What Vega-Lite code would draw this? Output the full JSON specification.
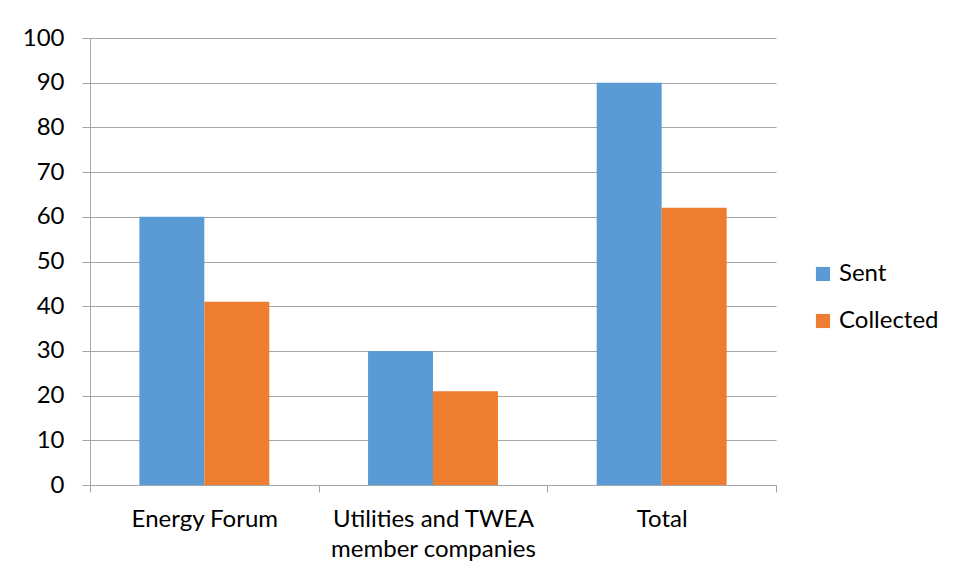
{
  "$schema": "https://vega.github.io/schema/vega-lite/v6.json",
  "width": 686,
  "height": 447,
  "autosize": {"type": "none"},
  "padding": {"left": 90, "top": 38, "right": 180, "bottom": 96},
  "background": "white",
  "data": {
    "values": [
      {"group": "Energy Forum", "series": "Sent", "value": 60},
      {"group": "Energy Forum", "series": "Collected", "value": 41},
      {"group": "Utilities and TWEA member companies", "series": "Sent", "value": 30},
      {"group": "Utilities and TWEA member companies", "series": "Collected", "value": 21},
      {"group": "Total", "series": "Sent", "value": 90},
      {"group": "Total", "series": "Collected", "value": 62}
    ]
  },
  "mark": {"type": "bar"},
  "encoding": {
    "x": {
      "field": "group",
      "type": "nominal",
      "sort": null,
      "scale": {"paddingInner": 0, "paddingOuter": 0},
      "axis": {
        "title": null,
        "labelAngle": 0,
        "labelExpr": "datum.label == 'Utilities and TWEA member companies' ? ['Utilities and TWEA', 'member companies'] : datum.label",
        "labelLineHeight": 30,
        "labelBaseline": "top",
        "labelPadding": 15,
        "labelLimit": 400,
        "tickBand": "extent",
        "tickSize": 7,
        "grid": false
      }
    },
    "xOffset": {
      "field": "series",
      "type": "nominal",
      "sort": ["Sent", "Collected"],
      "scale": {"paddingInner": 0, "paddingOuter": 0.76}
    },
    "y": {
      "field": "value",
      "type": "quantitative",
      "scale": {"domain": [0, 100], "nice": false},
      "axis": {
        "title": null,
        "values": [0, 10, 20, 30, 40, 50, 60, 70, 80, 90, 100],
        "tickSize": 8,
        "labelPadding": 18,
        "grid": true
      }
    },
    "color": {
      "field": "series",
      "type": "nominal",
      "sort": ["Sent", "Collected"],
      "scale": {"domain": ["Sent", "Collected"], "range": ["#5B9BD5", "#ED7D31"]},
      "legend": {
        "title": null,
        "orient": "none",
        "legendX": 721,
        "legendY": 224,
        "symbolType": "square",
        "symbolSize": 200,
        "symbolStrokeWidth": 0,
        "labelFontSize": 24,
        "labelOffset": 4,
        "labelLimit": 300,
        "rowPadding": 23
      }
    }
  },
  "config": {
    "font": "Lato",
    "view": {"stroke": null},
    "axis": {
      "labelFont": "Lato",
      "labelFontSize": 24,
      "labelColor": "#000000",
      "domainColor": "#A6A6A6",
      "tickColor": "#A6A6A6",
      "gridColor": "#A6A6A6",
      "gridOpacity": 1,
      "domainWidth": 1,
      "tickWidth": 1,
      "gridWidth": 1
    },
    "legend": {"labelFont": "Lato", "labelColor": "#000000"}
  }
}
